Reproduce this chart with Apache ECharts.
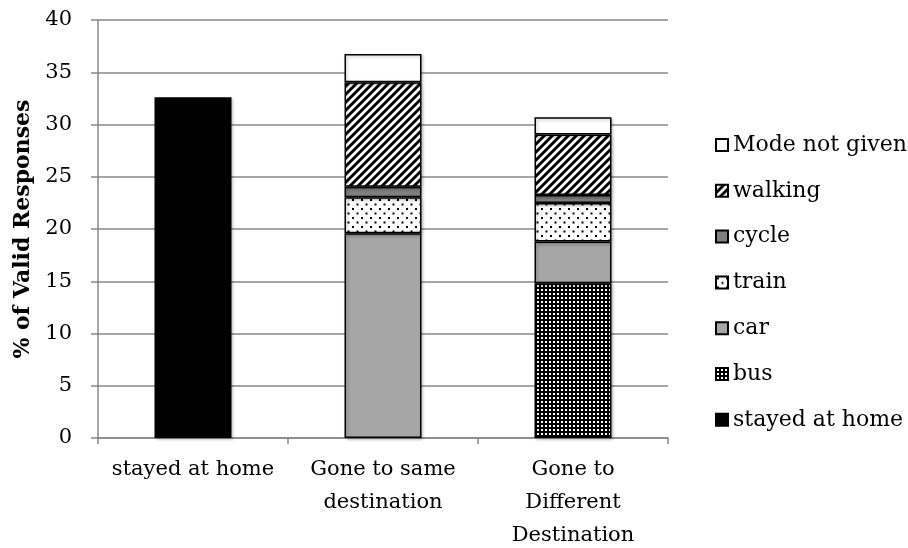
<!DOCTYPE html>
<html>
<head>
<meta charset="utf-8">
<script src="https://cdn.jsdelivr.net/npm/echarts@6/dist/echarts.min.js"></script>
<style>
  html, body { margin: 0; padding: 0; background: #fff; }
  #chart { width: 908px; height: 548px; }
</style>
</head>
<body>
<div id="chart"></div>
<script>
// Travel behaviour: share of valid responses by outcome and mode
const categories = ['stayed at home', 'Gone to same\ndestination', 'Gone to\nDifferent\nDestination'];
const stayedAtHome = [32.6, null, null];
const bus = [null, null, 14.8];
const car = [null, 19.6, 4.0];
const train = [null, 3.45, 3.7];
const cycle = [null, 1.0, 0.75];
const walking = [null, 10.0, 5.8];
const modeNotGiven = [null, 2.7, 1.65];
const yTicks = { min: 0, max: 40, step: 5 };
const legendOrder = ['Mode not given', 'walking', 'cycle', 'train', 'car', 'bus', 'stayed at home'];

const FONT = 'DejaVu Serif';
const FONT_SIZE = 21;

function makePattern(w, h, draw) {
  const c = document.createElement('canvas');
  c.width = w; c.height = h;
  const ctx = c.getContext('2d');
  draw(ctx, w, h);
  return { image: c, repeat: 'repeat' };
}

// Diagonal black/white stripes for walking
const stripePattern = makePattern(8, 8, (ctx, w, h) => {
  ctx.fillStyle = '#fff';
  ctx.fillRect(0, 0, w, h);
  ctx.strokeStyle = '#000';
  ctx.lineWidth = 2.9;
  ctx.beginPath();
  for (let k = -1; k <= 1; k++) {
    ctx.moveTo(k * w - 1, h + 1);
    ctx.lineTo(k * w + w + 1, -1);
  }
  ctx.stroke();
});

// Sparse black dots on white for train
const dotPattern = makePattern(9, 9, (ctx, w, h) => {
  ctx.fillStyle = '#fff';
  ctx.fillRect(0, 0, w, h);
  ctx.fillStyle = '#000';
  ctx.fillRect(1, 1, 2, 2);
  ctx.fillRect(5.5, 5.5, 2, 2);
});

// Dense white squares on black for bus
const gridPattern = makePattern(4, 4, (ctx, w, h) => {
  ctx.fillStyle = '#000';
  ctx.fillRect(0, 0, w, h);
  ctx.fillStyle = '#fff';
  ctx.fillRect(1, 1, 2, 2);
});

function barSeries(name, data, color) {
  return {
    name: name,
    type: 'bar',
    stack: 'total',
    data: data,
    barWidth: 77,
    itemStyle: {
      color: color,
      borderColor: '#000',
      borderWidth: 1.5,
      shadowColor: 'rgba(0,0,0,0.25)',
      shadowBlur: 3,
      shadowOffsetX: 1.5,
      shadowOffsetY: 1.5
    },
    emphasis: { disabled: true }
  };
}

const chart = echarts.init(document.getElementById('chart'), null, { renderer: 'canvas' });
chart.setOption({
  animation: false,
  textStyle: { fontFamily: FONT },
  grid: { left: 98, right: 240, top: 20, bottom: 110, outerBoundsMode: 'none', containLabel: false },
  legend: {
    orient: 'vertical',
    left: 710,
    top: 129,
    icon: 'rect',
    itemWidth: 12,
    itemHeight: 12,
    itemGap: 23.8,
    data: legendOrder,
    selectedMode: false,
    textStyle: {
      fontFamily: FONT,
      fontSize: 22,
      color: '#000',
      lineHeight: 20
    }
  },
  xAxis: {
    type: 'category',
    data: categories,
    axisLine: { lineStyle: { color: '#888', width: 1.5 } },
    axisTick: { show: true, length: 6, lineStyle: { color: '#888', width: 1.5 } },
    axisLabel: {
      interval: 0,
      fontFamily: FONT,
      fontSize: FONT_SIZE,
      color: '#000',
      lineHeight: 33,
      margin: 15,
      align: 'center'
    }
  },
  yAxis: {
    type: 'value',
    min: yTicks.min,
    max: yTicks.max,
    interval: yTicks.step,
    name: '% of Valid Responses',
    nameLocation: 'middle',
    nameGap: 64,
    nameTextStyle: { fontFamily: FONT, fontSize: 22, fontWeight: 'bold', color: '#000' },
    axisLine: { show: true, lineStyle: { color: '#888', width: 1.5 } },
    axisTick: { show: true, length: 7, lineStyle: { color: '#888', width: 1.5 } },
    axisLabel: { fontFamily: FONT, fontSize: FONT_SIZE, color: '#000', margin: 26 },
    splitLine: { lineStyle: { color: '#888', width: 1.5 } }
  },
  series: [
    barSeries('stayed at home', stayedAtHome, '#000'),
    barSeries('bus', bus, gridPattern),
    barSeries('car', car, '#a6a6a6'),
    barSeries('train', train, dotPattern),
    barSeries('cycle', cycle, '#808080'),
    barSeries('walking', walking, stripePattern),
    barSeries('Mode not given', modeNotGiven, '#fff')
  ]
});
</script>
</body>
</html>
